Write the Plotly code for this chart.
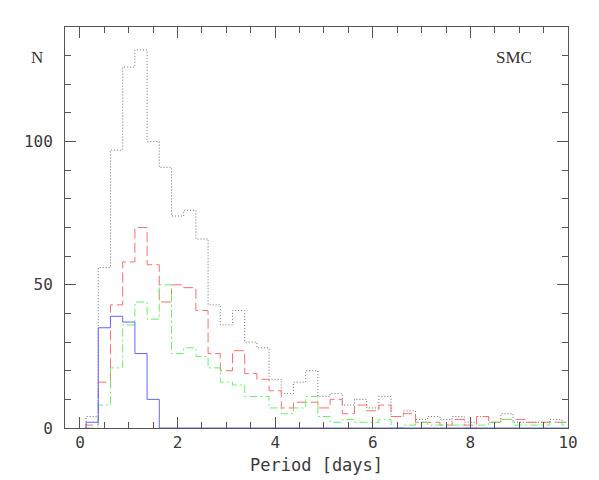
import plotly.graph_objects as go

# bin centres (days) – bin width 0.25
period_centers = [0.25, 0.5, 0.75, 1.0, 1.25, 1.5, 1.75, 2.0, 2.25, 2.5,
                  2.75, 3.0, 3.25, 3.5, 3.75, 4.0, 4.25, 4.5, 4.75, 5.0,
                  5.25, 5.5, 5.75, 6.0, 6.25, 6.5, 6.75, 7.0, 7.25, 7.5,
                  7.75, 8.0, 8.25, 8.5, 8.75, 9.0, 9.25, 9.5, 9.75, 10.0]
bin_width = 0.25

n_all = [4, 56, 97, 126, 132, 100, 91, 74, 76, 66,
         43, 36, 41, 30, 28, 17, 12, 16, 20, 11,
         12, 8, 10, 7, 11, 4, 6, 3, 4, 3,
         4, 2, 4, 2, 5, 2, 2, 2, 3, 2]
n_red = [1, 16, 43, 58, 70, 57, 44, 50, 49, 41,
         26, 20, 27, 19, 17, 13, 7, 9, 9, 7,
         10, 5, 8, 6, 8, 4, 5, 2, 2, 1,
         3, 1, 4, 2, 3, 3, 2, 2, 2, 2]
n_green = [0, 8, 21, 36, 44, 38, 50, 26, 28, 25,
           21, 16, 15, 11, 11, 7, 5, 7, 11, 4,
           2, 3, 2, 2, 3, 0, 1, 2, 1, 1,
           1, 0, 1, 2, 3, 1, 1, 1, 2, 1]
n_blue = [2, 35, 39, 37, 26, 10, 0, 0, 0, 0,
          0, 0, 0, 0, 0, 0, 0, 0, 0, 0,
          0, 0, 0, 0, 0, 0, 0, 0, 0, 0,
          0, 0, 0, 0, 0, 0, 0, 0, 0, 0]

x_ticks = [0, 2, 4, 6, 8, 10]
y_ticks = [0, 50, 100]


def step_xy(centers, vals, w):
    left = [c - w / 2 for c in centers]
    right_end = centers[-1] + w / 2
    xs = [left[0]] + left + [right_end]
    ys = [0] + list(vals) + [vals[-1]]
    return xs, ys


fig = go.Figure()
series = [
    (n_all, "rgb(110,110,110)", "1px,2px"),
    (n_red, "rgb(255,110,110)", "10px,4px"),
    (n_green, "rgb(100,245,100)", "8px,3px,2px,3px"),
    (n_blue, "rgb(100,100,255)", "solid"),
]
for vals, col, dash in series:
    xs, ys = step_xy(period_centers, vals, bin_width)
    fig.add_trace(go.Scatter(x=xs, y=ys, mode="lines", line_shape="hv",
                             line=dict(color=col, width=1, dash=dash),
                             hoverinfo="skip", showlegend=False))

tickfont = dict(family="DejaVu Sans Mono", size=16, color="#3a3a3a")
frame = "#555"
fig.update_xaxes(range=[-0.307, 10], tickvals=x_ticks, ticktext=[str(v) for v in x_ticks],
                 ticks="inside", ticklen=11, tickcolor=frame, tickwidth=1,
                 minor=dict(dtick=0.5, ticks="inside", ticklen=6, tickcolor=frame, showgrid=False),
                 showline=True, linecolor=frame, linewidth=1, mirror="allticks",
                 showgrid=False, zeroline=False, tickfont=tickfont)
fig.update_yaxes(range=[0, 140], tickvals=y_ticks, ticktext=[str(v) for v in y_ticks],
                 ticks="inside", ticklen=11, tickcolor=frame, tickwidth=1,
                 minor=dict(dtick=10, ticks="inside", ticklen=6, tickcolor=frame, showgrid=False),
                 showline=True, linecolor=frame, linewidth=1, mirror="allticks",
                 showgrid=False, zeroline=False, tickfont=tickfont,
                 ticklabelstandoff=8)

# the page body adds an 8px offset, so the figure is shrunk and margins reduced
fig.update_layout(
    width=591, height=472,
    margin=dict(l=57, r=31, t=19, b=52, autoexpand=False),
    paper_bgcolor="white", plot_bgcolor="white",
    annotations=[
        dict(text="Period [days]", xref="paper", yref="paper", x=0.5, y=-0.092,
             xanchor="center", yanchor="middle", showarrow=False,
             font=dict(family="DejaVu Sans Mono", size=17, color="#3a3a3a")),
        dict(text="N", xref="paper", yref="paper", x=-0.055, y=0.925,
             xanchor="center", yanchor="middle", showarrow=False,
             font=dict(family="Liberation Serif", size=17, color="#333")),
        dict(text="SMC", xref="paper", yref="paper", x=0.892, y=0.925,
             xanchor="center", yanchor="middle", showarrow=False,
             font=dict(family="Liberation Serif", size=17, color="#333")),
    ],
)

fig.write_html("out.html")
